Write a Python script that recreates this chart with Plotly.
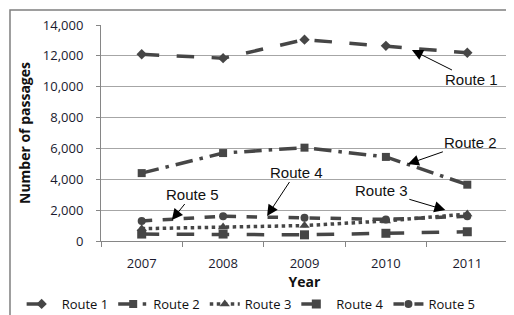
import plotly.graph_objects as go

years = ["2007", "2008", "2009", "2010", "2011"]
route1 = [12100, 11850, 13050, 12650, 12200]
route2 = [4400, 5700, 6050, 5450, 3650]
route3 = [800, 900, 1000, 1300, 1750]
route4 = [450, 450, 400, 500, 600]
route5 = [1300, 1600, 1500, 1400, 1600]

names = ["Route 1", "Route 2", "Route 3", "Route 4", "Route 5"]
series = [route1, route2, route3, route4, route5]
dashes = ["longdash", "longdashdot", "dot", "longdash", "dash"]
symbols = ["diamond", "square", "triangle-up", "square", "circle"]
msizes = [8, 8, 9, 9, 8]
col = "#464646"

fig = go.Figure()
for n, s, d, sym, ms in zip(names, series, dashes, symbols, msizes):
    fig.add_trace(go.Scatter(
        x=years, y=s, name=n, mode="lines+markers", cliponaxis=False,
        line=dict(color=col, width=3.5, dash=d),
        marker=dict(symbol=sym, size=ms, color=col),
    ))

afont = dict(family="Liberation Sans Narrow, Arial Narrow, Liberation Sans", size=15, color="#111")
arrows = [
    ("Route 1", 3.32, 12380, 60, 30),
    ("Route 2", 3.27, 4990, 63, -22),
    ("Route 4", 1.54, 1620, 29, -44),
    ("Route 5", 0.37, 1360, 21, -26),
    ("Route 3", 3.73, 2010, -64, -19),
]
for t, xi, yv, ax, ay in arrows:
    fig.add_annotation(x=xi, y=yv, xref="x", yref="y", text=t,
                       showarrow=True, ax=ax, ay=ay, arrowhead=2, arrowsize=2.2,
                       arrowwidth=1, arrowcolor="#000", font=afont)

fig.add_shape(type="rect", xref="paper", yref="paper",
              x0=-0.2236, x1=1.2, y0=-0.6, y1=1.069,
              line=dict(color="#7f7f7f", width=1.5), fillcolor="rgba(0,0,0,0)")

ff = "Open Sans, Carlito, Noto Sans"
tfont = dict(family=ff, size=13, color="#1a1a2e")
fig.update_layout(
    width=506, height=307,
    margin=dict(l=93, r=6, t=17, b=74, autoexpand=False),
    paper_bgcolor="white", plot_bgcolor="white",
    showlegend=True,
    legend=dict(orientation="h", x=-0.195, y=-0.222, xanchor="left", yanchor="top",
                font=dict(family=ff, size=13, color="#111"),
                tracegroupgap=0, traceorder="normal"),
    xaxis=dict(type="category", range=[-0.5, 4.5], showgrid=False, showline=True,
               linecolor="#868686", automargin=False,
               ticks="outside", tickson="boundaries", ticklen=5, tickcolor="#868686",
               tickfont=tfont, ticklabelstandoff=10,
               title=dict(text="<b>Year</b>", font=dict(family=ff, size=14, color="#111"), standoff=4)),
    yaxis=dict(range=[0, 14000], dtick=2000, tickformat=",d", showgrid=True,
               gridcolor="#a6a6a6", showline=True, linecolor="#868686", automargin=False,
               ticks="outside", ticklen=4, tickcolor="#868686", tickfont=tfont,
               ticklabelstandoff=10,
               title=dict(text="<b>Number of passages</b>", font=dict(family=ff, size=14, color="#111"), standoff=8)),
)
fig.write_html("out.html")
